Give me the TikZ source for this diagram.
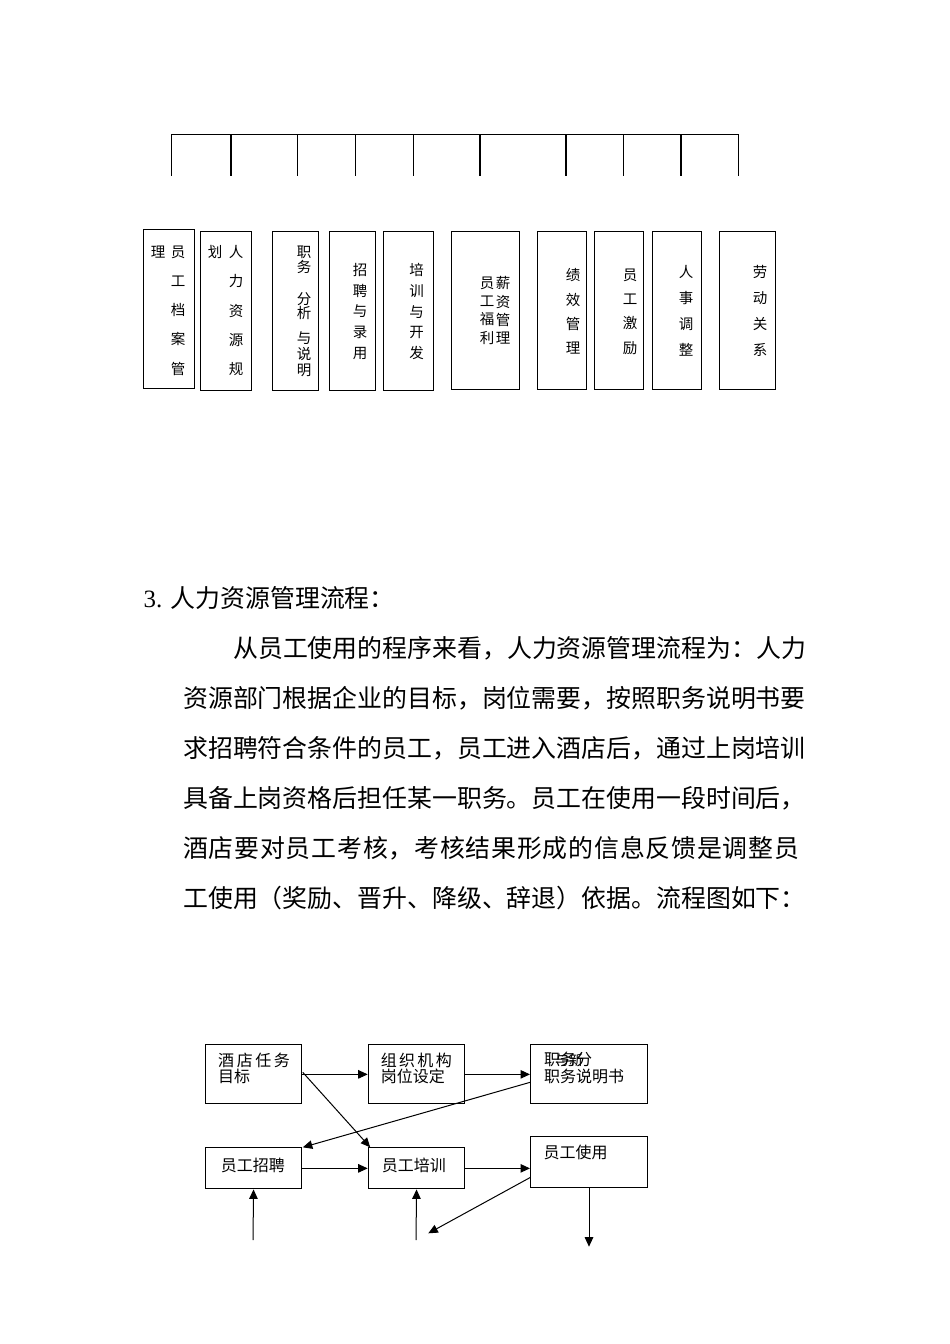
\documentclass[tikz,border=0pt]{standalone}
\usepackage{fontspec}
\setmainfont{Liberation Serif}
\newfontfamily\cjk{Noto Sans CJK SC}
\usetikzlibrary{arrows.meta,calc}
\newcommand\fsz[2]{\fontsize{#1}{#2}\selectfont}
\def\sprd#1{\ifx#1\relax\else#1\hspace{0.8pt}\expandafter\sprd\fi}
\begin{document}
\begin{tikzpicture}[x=1pt,y=-1pt,
  box/.style={draw, line width=1.1pt, inner sep=0pt, anchor=north west},
  orgline/.style={line width=1.1pt},
  arr/.style={line width=1pt,-{Triangle[length=9.5pt,width=8.5pt]}},
  vtxt/.style={inner sep=0pt, align=center},
  ftxt/.style={inner sep=0pt, anchor=west, align=left, font=\cjk\fsz{16}{16.7}},
  body/.style={inner sep=0pt, anchor=west, font=\cjk\fsz{24.9}{30}}]
\useasboundingbox (0,0) rectangle (950,1344);
\fill[white] (0,0) rectangle (950,1344);

% ---- org chart connector lines ----
\coordinate (h0) at (171.7,134.3);
\coordinate (h1) at (738.3,134.3);
\draw[orgline] (h0) -- (h1);
\foreach \i/\x in {1/171.7,2/231,3/297.7,4/355.7,5/413.3,6/480,7/566,8/623.3,9/681,10/738.3}{
  \coordinate (vt\i) at (\x,134.3);
  \coordinate (vb\i) at (\x,175.5);
  \draw[orgline] (vt\i) -- (vb\i);
}

% ---- org chart boxes ----
\node[box, minimum width=51pt,   minimum height=159pt] (b1)  at (142.7,229) {};
\node[box, minimum width=50.7pt, minimum height=159pt] (b2)  at (200,231) {};
\node[box, minimum width=46.6pt, minimum height=159pt] (b3)  at (271.7,231) {};
\node[box, minimum width=45.7pt, minimum height=159pt] (b4)  at (329.3,231) {};
\node[box, minimum width=49.4pt, minimum height=159pt] (b5)  at (383.3,231) {};
\node[box, minimum width=68.3pt, minimum height=158pt] (b6)  at (450.7,231) {};
\node[box, minimum width=49pt,   minimum height=158pt] (b7)  at (536.7,231) {};
\node[box, minimum width=49pt,   minimum height=158pt] (b8)  at (594.3,231) {};
\node[box, minimum width=49pt,   minimum height=158pt] (b9)  at (651.7,231) {};
\node[box, minimum width=56.3pt, minimum height=158pt] (b10) at (718.7,231) {};

% ---- org chart box texts ----
\node[vtxt, font=\cjk\fsz{14.5}{29.25}] (t1a) at (178,310.5) {员\\工\\档\\案\\管};
\node[vtxt, font=\cjk\fsz{14.5}{14}] (t1b) at (158,252) {理};
\node[vtxt, font=\cjk\fsz{14.5}{29.25}] (t2a) at (236,310.5) {人\\力\\资\\源\\规};
\node[vtxt, font=\cjk\fsz{14.5}{14}] (t2b) at (215,252) {划};
\node[vtxt, font=\cjk\fsz{14.5}{15}] (t3a) at (304,259.5) {职\\务};
\node[vtxt, font=\cjk\fsz{14.5}{14}] (t3b) at (304,306.5) {分\\析};
\node[vtxt, font=\cjk\fsz{14.5}{16}] (t3c) at (304,354) {与\\说\\明};
\node[vtxt, font=\cjk\fsz{14.5}{20.75}] (t4) at (360,311.5) {招\\聘\\与\\录\\用};
\node[vtxt, font=\cjk\fsz{14.5}{20.75}] (t5) at (416.7,311.5) {培\\训\\与\\开\\发};
\node[vtxt, font=\cjk\fsz{14.5}{18.3}] (t6a) at (503,310.5) {薪\\资\\管\\理};
\node[vtxt, font=\cjk\fsz{14.5}{18.3}] (t6b) at (487,310.5) {员\\工\\福\\利};
\node[vtxt, font=\cjk\fsz{14.5}{24.3}] (t7) at (573,311.5) {绩\\效\\管\\理};
\node[vtxt, font=\cjk\fsz{14.5}{24.3}] (t8) at (630,311.5) {员\\工\\激\\励};
\node[vtxt, font=\cjk\fsz{14.5}{26}] (t9) at (686,311) {人\\事\\调\\整};
\node[vtxt, font=\cjk\fsz{14.5}{26}] (t10) at (760,311) {劳\\动\\关\\系};

% ---- paragraph ----
\node[inner sep=0pt, anchor=west, font=\fsz{24.9}{30}] (title) at (143.5,598) {3. {\cjk 人力资源管理流程：}};
\node[body] (l1) at (233,648) {从员工使用的程序来看，人力资源管理流程为：人力};
\node[body] (l2) at (183,698) {资源部门根据企业的目标，岗位需要，按照职务说明书要};
\node[body] (l3) at (183,748) {求招聘符合条件的员工，员工进入酒店后，通过上岗培训};
\node[body] (l4) at (183,798) {具备上岗资格后担任某一职务。员工在使用一段时间后，};
\node[body] (l5) at (183,848) {\sprd 酒店要对员工考核，考核结果形成的信息反馈是调整员\relax};
\node[body] (l6) at (183,898) {工使用（奖励、晋升、降级、辞退）依据。流程图如下：};

% ---- flowchart boxes ----
\node[box, minimum width=96pt,    minimum height=59pt]   (A) at (205,1044.3) {};
\node[box, minimum width=96.6pt,  minimum height=59pt]   (B) at (367.7,1044.3) {};
\node[box, minimum width=116.7pt, minimum height=59pt]   (C) at (530,1044.3) {};
\node[box, minimum width=96pt,    minimum height=41pt]   (D) at (205,1147.3) {};
\node[box, minimum width=96.6pt,  minimum height=41pt]   (E) at (367.7,1147.3) {};
\node[box, minimum width=116.7pt, minimum height=50.7pt] (F) at (530,1136) {};

% ---- flowchart texts ----
\node[ftxt] (tA) at (218,1068.3) {酒\hspace{2.6pt}店\hspace{2.6pt}任\hspace{2.6pt}务\\目标};
\node[ftxt] (tB) at (380.7,1068.3) {组\hspace{2.3pt}织\hspace{2.3pt}机\hspace{2.3pt}构\\岗位设定};
\node[ftxt] (tC) at (544,1068.3) {职务分\\职务说明书};
\node[inner sep=0pt, anchor=west, font=\cjk\fsz{14}{14}] (tC2) at (555,1060) {与新};
\node[ftxt] (tD) at (220.7,1165) {员工招聘};
\node[ftxt] (tE) at (381.7,1165) {员工培训};
\node[ftxt] (tF) at (543.3,1152.7) {员工使用};

% ---- flowchart connectors ----
\coordinate (inD) at (253,1240);
\coordinate (inE) at (416,1240);
\coordinate (fbE) at (428.3,1233.3);
\coordinate (outF) at (589,1246.7);
\draw[arr] (A.east) -- (B.west);
\draw[arr] (B.east) -- (C.west);
\draw[arr] ($(A.east)+(0.7,-2)$) -- ($(E.north west)+(2.5,0)$);
\draw[arr] ($(C.west)+(0,8)$) -- ($(D.north east)+(0.7,0)$);
\draw[arr] (D.east) -- (E.west);
\draw[arr] (E.east) -- (E.east -| F.west);
\draw[arr] (inD) -- (D.south);
\draw[arr] (inE) -- (E.south);
\draw[arr] ($(F.west)+(0,15.7)$) -- (fbE);
\draw[arr] (F.south -| outF) -- (outF);
\end{tikzpicture}
\end{document}
